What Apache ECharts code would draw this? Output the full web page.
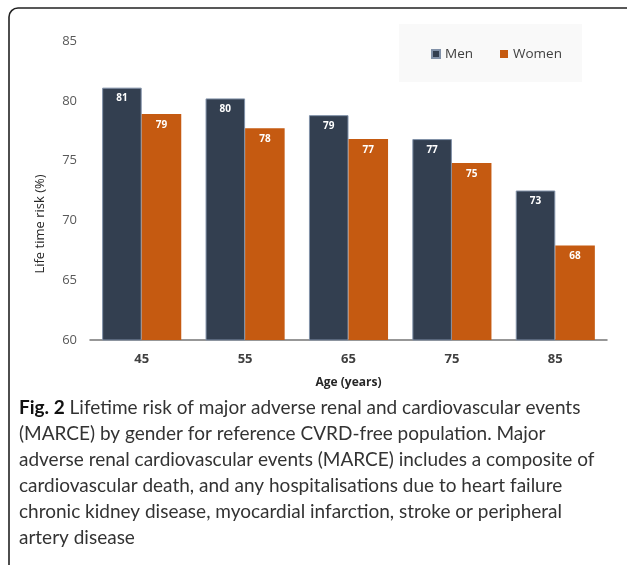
<!DOCTYPE html>
<html>
<head>
<meta charset="utf-8">
<script src="https://cdn.jsdelivr.net/npm/echarts@6/dist/echarts.min.js"></script>
<style>
html,body{margin:0;padding:0;background:#fff;}
#chart{width:627px;height:565px;}
</style>
</head>
<body>
<div id="chart"></div>
<script>
var categories = ['45', '55', '65', '75', '85'];
var men = [81.1, 80.2, 78.8, 76.8, 72.5];
var women = [78.9, 77.7, 76.8, 74.8, 67.9];
var yTicks = [60, 65, 70, 75, 80, 85];
var xAxisTitle = 'Age (years)';
var yAxisTitle = 'Life time risk (%)';
var captionLines = [
  'Lifetime risk of major adverse renal and cardiovascular events',
  '(MARCE) by gender for reference CVRD-free population. Major',
  'adverse renal cardiovascular events (MARCE) includes a composite of',
  'cardiovascular death, and any hospitalisations due to heart failure',
  'chronic kidney disease, myocardial infarction, stroke or peripheral',
  'artery disease'
];

var chart = echarts.init(document.getElementById('chart'), null, {renderer: 'canvas'});
var font = 'Open Sans';

var graphics = [
  {type: 'rect', shape: {x: 9, y: 8, width: 640, height: 600, r: 9}, style: {fill: 'none', stroke: '#222', lineWidth: 1.6}, z: 0},
  {type: 'rect', shape: {x: 399, y: 24, width: 183, height: 58}, style: {fill: '#f9f9f9'}, z: 0},
  {type: 'text', x: 40, y: 224, rotation: Math.PI / 2,
    style: {text: yAxisTitle, fill: '#262626', font: '13px "Open Sans"', align: 'center', verticalAlign: 'middle'}}
];
captionLines.forEach(function (line, i) {
  var txt = i === 0 ? '{b|Fig. 2} ' + line : line;
  graphics.push({type: 'text', left: 19, top: 398 + i * 26,
    style: {text: txt, fill: '#333', font: '19px Lato', rich: {b: {fontWeight: 'bold', fontFamily: 'Lato', fontSize: 19, fill: '#111'}}}});
});

chart.setOption({
  animation: false,
  textStyle: {fontFamily: font},
  grid: {left: 90, right: 20, top: 41, bottom: 225, containLabel: false},
  legend: {
    data: ['Men', 'Women'], left: 431, top: 47, itemWidth: 8, itemHeight: 8, itemGap: 27, padding: 0,
    icon: 'rect', textStyle: {fontSize: 13.5, color: '#404040', fontFamily: font}
  },
  xAxis: {
    type: 'category', data: categories,
    name: xAxisTitle, nameLocation: 'middle', nameGap: 37,
    nameTextStyle: {fontSize: 12, fontWeight: 'bold', color: '#262626'},
    axisLine: {lineStyle: {color: '#767676', width: 1.5}},
    axisTick: {show: false},
    axisLabel: {fontSize: 13, fontWeight: 'bold', color: '#404040', margin: 13}
  },
  yAxis: {
    type: 'value', min: 60, max: 85, interval: 5,
    axisLine: {show: false}, axisTick: {show: false}, splitLine: {show: false},
    axisLabel: {fontSize: 13, color: '#595959', margin: 13,
      customValues: yTicks}
  },
  series: [
    {name: 'Men', type: 'bar', data: men, barGap: '0%', barCategoryGap: '23.5%',
      itemStyle: {color: '#333f50', borderColor: '#8191a8', borderWidth: 1},
      label: {show: true, position: 'insideTop', distance: 6, fontSize: 10, fontWeight: 'bold', color: '#fff',
        formatter: function (p) { return Math.round(p.value); }}},
    {name: 'Women', type: 'bar', data: women,
      itemStyle: {color: '#c55a11'},
      label: {show: true, position: 'insideTop', distance: 6, fontSize: 10, fontWeight: 'bold', color: '#fff',
        formatter: function (p) { return Math.round(p.value); }}}
  ],
  graphic: graphics
});
</script>
</body>
</html>
